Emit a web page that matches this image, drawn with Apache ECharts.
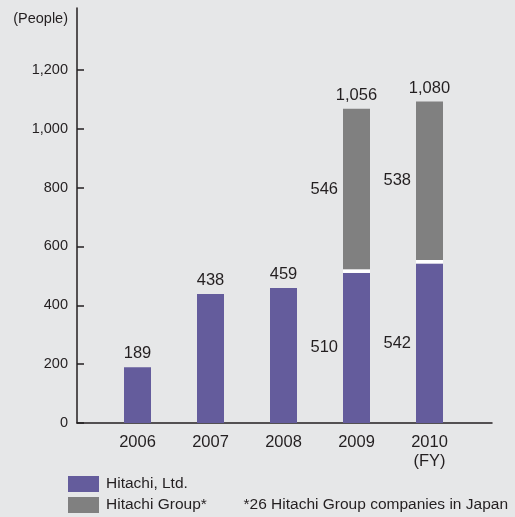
<!DOCTYPE html>
<html>
<head>
<meta charset="utf-8">
<script src="https://cdn.jsdelivr.net/npm/echarts@6/dist/echarts.min.js"></script>
<style>
html,body{margin:0;padding:0;background:#e6e7e8;}
#c{width:515px;height:517px;}
</style>
</head>
<body>
<div id="c"></div>
<script>
const years = ['2006', '2007', '2008', '2009', '2010'];
const yearLabels = ['2006', '2007', '2008', '2009', '2010\n(FY)'];
const hitachiLtd = [189, 438, 459, 510, 542];
const hitachiGroup = [null, null, null, 546, 538];
const totals = [null, null, null, 1056, 1080];
const yTicks = [0, 200, 400, 600, 800, 1000, 1200];

const FONT = '"Liberation Sans", Arial, sans-serif';
const TXT = '#231f20';
const PURPLE = '#645c9c';
const GRAY = '#808080';
const GAP = 12; // white separator between stacked parts (style only)
const Y_MAX = 1410;
const fmt = v => Number(v).toLocaleString('en-US');

const chart = echarts.init(document.getElementById('c'), null, {renderer: 'canvas'});

const ltdData = hitachiLtd.map((v, i) => ({
  value: v,
  label: {position: hitachiGroup[i] != null ? 'left' : 'top'}
}));
const gapData = hitachiGroup.map(v => v != null ? GAP : '-');
const groupData = hitachiGroup.map(v => v != null ? v : '-');
const totalData = totals.map(v => v != null ? 0 : '-');

const labelStyle = {show: true, color: TXT, fontFamily: FONT, fontSize: 16.5, distance: 5};

chart.setOption({
  backgroundColor: '#e6e7e8',
  animation: false,
  textStyle: {fontFamily: FONT},
  grid: [
    {left: 77, right: 23, top: 8, bottom: 94},
    {left: 101, right: 49, top: 8, bottom: 94}
  ],
  legend: {
    data: ['Hitachi, Ltd.', 'Hitachi Group*'],
    orient: 'vertical',
    left: 68, top: 476,
    padding: 0,
    itemWidth: 31, itemHeight: 16, itemGap: 5,
    icon: 'rect',
    textStyle: {fontFamily: FONT, fontSize: 15.5, lineHeight: 16, color: TXT, padding: [0, 0, 0, 2]},
    selectedMode: false
  },
  graphic: [{
    type: 'text', right: 7, top: 497,
    style: {text: '*26 Hitachi Group companies in Japan', font: '15.5px ' + FONT, fill: TXT}
  }],
  xAxis: [
    {
      gridIndex: 0, type: 'value', min: 0, max: 1,
      axisLine: {show: true, lineStyle: {color: TXT, width: 1.5}},
      axisTick: {show: false}, axisLabel: {show: false}, splitLine: {show: false}
    },
    {
      gridIndex: 1, type: 'category', data: years,
      axisLine: {show: false}, axisTick: {show: false}, splitLine: {show: false},
      axisLabel: {
        formatter: (v, i) => yearLabels[i],
        color: TXT, fontFamily: FONT, fontSize: 16.5, lineHeight: 19, margin: 10
      }
    }
  ],
  yAxis: [
    {
      gridIndex: 0, type: 'value', min: 0, max: Y_MAX,
      name: '(People)',
      nameLocation: 'end',
      nameGap: -11,
      nameTextStyle: {align: 'right', verticalAlign: 'middle', padding: [0, 9, 0, 0], color: TXT, fontFamily: FONT, fontSize: 14.5},
      axisLine: {show: true, onZero: false, lineStyle: {color: TXT, width: 1.5}},
      axisTick: {show: true, inside: true, length: 7, customValues: yTicks, lineStyle: {color: TXT, width: 1.5}},
      splitLine: {show: false},
      axisLabel: {customValues: yTicks, formatter: v => fmt(v), color: TXT, fontFamily: FONT, fontSize: 14.5, margin: 9}
    },
    {
      gridIndex: 1, type: 'value', min: 0, max: Y_MAX, show: false, splitLine: {show: false}
    }
  ],
  series: [
    {
      name: 'Hitachi, Ltd.', type: 'bar', stack: 'a', barWidth: 27,
      xAxisIndex: 1, yAxisIndex: 1,
      itemStyle: {color: PURPLE},
      label: Object.assign({}, labelStyle, {formatter: p => fmt(p.value)}),
      data: ltdData
    },
    {
      name: 'gap', type: 'bar', stack: 'a', barWidth: 27, silent: true,
      xAxisIndex: 1, yAxisIndex: 1,
      itemStyle: {color: '#ffffff'},
      data: gapData
    },
    {
      name: 'Hitachi Group*', type: 'bar', stack: 'a', barWidth: 27,
      xAxisIndex: 1, yAxisIndex: 1,
      itemStyle: {color: GRAY},
      label: Object.assign({}, labelStyle, {position: 'left', formatter: p => fmt(p.value)}),
      data: groupData
    },
    {
      name: 'total', type: 'bar', stack: 'a', barWidth: 27, silent: true,
      xAxisIndex: 1, yAxisIndex: 1,
      itemStyle: {color: 'transparent'},
      label: Object.assign({}, labelStyle, {position: 'top', formatter: p => fmt(totals[p.dataIndex])}),
      data: totalData
    }
  ]
});
</script>
</body>
</html>
